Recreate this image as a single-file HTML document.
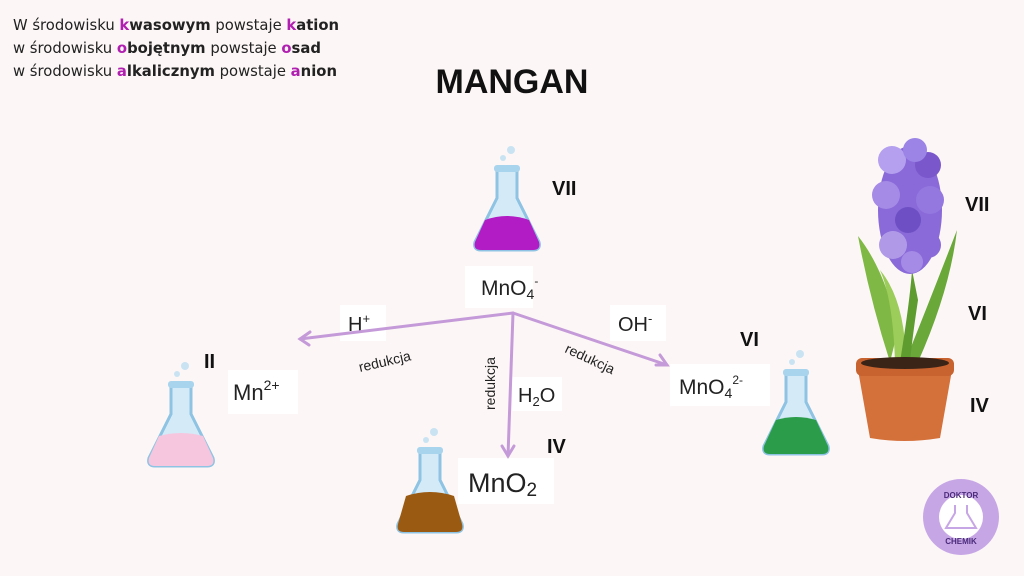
<!DOCTYPE html>
<html><head><meta charset="utf-8"><style>
body{margin:0;width:1024px;height:576px;background:#fcf7f6;overflow:hidden;font-family:"Liberation Sans",sans-serif}
svg{position:absolute;left:0;top:0}
</style></head><body>
<svg width="1024" height="576" viewBox="0 0 1024 576" font-family="Liberation Sans, DejaVu Sans, sans-serif">
<defs>
<g id="flask">
 <path d="M-10,-40 L-10,-12 L-32,32 Q-34,40 -26,40 L26,40 Q34,40 32,32 L10,-12 L10,-40 Z" fill="#d4eaf7" stroke="#8ec3e3" stroke-width="3"/>
 <rect x="-13" y="-45" width="26" height="7" rx="3" fill="#a9d4ee"/>
 <circle cx="-4" cy="-52" r="3" fill="#c9e3f3"/><circle cx="4" cy="-60" r="4" fill="#c9e3f3"/>
</g>
</defs>
<g font-family="DejaVu Sans, sans-serif" font-size="14.8" fill="#222">
<text x="13" y="30">W środowisku <tspan font-weight="bold" fill="#b01fb0">k</tspan><tspan font-weight="bold">wasowym</tspan> powstaje <tspan font-weight="bold" fill="#b01fb0">k</tspan><tspan font-weight="bold">ation</tspan></text>
<text x="13" y="53">w środowisku <tspan font-weight="bold" fill="#b01fb0">o</tspan><tspan font-weight="bold">bojętnym</tspan> powstaje <tspan font-weight="bold" fill="#b01fb0">o</tspan><tspan font-weight="bold">sad</tspan></text>
<text x="13" y="76">w środowisku <tspan font-weight="bold" fill="#b01fb0">a</tspan><tspan font-weight="bold">lkalicznym</tspan> powstaje <tspan font-weight="bold" fill="#b01fb0">a</tspan><tspan font-weight="bold">nion</tspan></text>
</g>
<text x="512" y="93" font-size="34" font-weight="bold" text-anchor="middle" fill="#111">MANGAN</text>

<g transform="translate(507,210)"><use href="#flask"/><path d="M-22,10 Q0,2 22,10 L32,32 Q34,40 26,40 L-26,40 Q-34,40 -32,32 Z" fill="#b21cc4"/></g>
<g transform="translate(181,426)"><use href="#flask"/><path d="M-22,10 Q0,4 22,10 L32,32 Q34,40 26,40 L-26,40 Q-34,40 -32,32 Z" fill="#f6c6de"/></g>
<g transform="translate(430,492)"><use href="#flask"/><path d="M-24,4 Q0,-4 24,4 L32,32 Q34,40 26,40 L-26,40 Q-34,40 -32,32 Z" fill="#9b5a12"/></g>
<g transform="translate(796,414)"><use href="#flask"/><path d="M-20,6 Q0,0 20,6 L32,32 Q34,40 26,40 L-26,40 Q-34,40 -32,32 Z" fill="#2a9c4a"/></g>

<rect x="465" y="266" width="68" height="42" fill="#fff"/>
<text x="481" y="295" font-size="21" fill="#222">MnO<tspan font-size="14" dy="4">4</tspan><tspan font-size="12" dy="-14">-</tspan></text>
<rect x="228" y="370" width="70" height="44" fill="#fff"/>
<text x="233" y="400" font-size="22" fill="#222">Mn<tspan font-size="14" dy="-10">2+</tspan></text>
<rect x="458" y="458" width="96" height="46" fill="#fff"/>
<text x="468" y="492" font-size="27" fill="#222">MnO<tspan font-size="19" dy="4">2</tspan></text>
<rect x="670" y="364" width="100" height="42" fill="#fff"/>
<text x="679" y="394" font-size="21" fill="#222">MnO<tspan font-size="14" dy="4">4</tspan><tspan font-size="12" dy="-14">2-</tspan></text>
<rect x="340" y="305" width="46" height="36" fill="#fff"/>
<text x="348" y="331" font-size="20" fill="#222">H<tspan font-size="13" dy="-8">+</tspan></text>
<rect x="512" y="377" width="50" height="34" fill="#fff"/>
<text x="518" y="402" font-size="20" fill="#222">H<tspan font-size="13" dy="4">2</tspan><tspan dy="-4">O</tspan></text>
<rect x="610" y="305" width="56" height="36" fill="#fff"/>
<text x="618" y="331" font-size="20" fill="#222">OH<tspan font-size="13" dy="-8">-</tspan></text>

<g stroke="#c59ad8" stroke-width="3" fill="none" stroke-linecap="round">
<line x1="513" y1="313" x2="300" y2="339"/><polyline points="310,332 300,339 309,345"/>
<line x1="513" y1="313" x2="508" y2="456"/><polyline points="502,446 508,456 514,446"/>
<line x1="513" y1="313" x2="667" y2="365"/><polyline points="656,365 667,365 660,355"/>
</g>
<text transform="translate(360,372) rotate(-13)" font-size="14" fill="#222">redukcja</text>
<text transform="translate(495,410) rotate(-90)" font-size="14" fill="#222">redukcja</text>
<text transform="translate(564,352) rotate(25)" font-size="14" fill="#222">redukcja</text>

<g font-size="20" font-weight="bold" fill="#111">
<text x="552" y="195">VII</text><text x="204" y="368">II</text><text x="547" y="453">IV</text><text x="740" y="346">VI</text>
<text x="965" y="211">VII</text><text x="968" y="320">VI</text><text x="970" y="412">IV</text>
</g>

<g>
<path d="M890,362 Q870,300 858,236 Q885,270 898,330 Z" fill="#7fb844"/>
<path d="M905,362 Q930,300 957,230 Q950,290 918,362 Z" fill="#6aa83a"/>
<path d="M895,362 Q893,300 880,270 Q905,300 906,362 Z" fill="#9ccc5a"/>
<path d="M900,362 Q910,300 912,270 L918,300 Q912,340 910,362 Z" fill="#5e9c30"/>
<ellipse cx="910" cy="210" rx="32" ry="64" fill="#8a6ad8"/>
<circle cx="892" cy="160" r="14" fill="#b4a0ee"/><circle cx="928" cy="165" r="13" fill="#7a58cc"/>
<circle cx="915" cy="150" r="12" fill="#9b84e6"/>
<circle cx="886" cy="195" r="14" fill="#a58ae6"/><circle cx="930" cy="200" r="14" fill="#9478e0"/>
<circle cx="908" cy="220" r="13" fill="#6e50c4"/>
<circle cx="893" cy="245" r="14" fill="#b09ae8"/><circle cx="928" cy="245" r="13" fill="#8a6ad8"/>
<circle cx="912" cy="262" r="11" fill="#a58ae6"/>
<path d="M858,370 L952,370 L940,438 Q904,444 870,438 Z" fill="#d4703a"/>
<rect x="856" y="358" width="98" height="18" rx="6" fill="#c8622e"/>
<ellipse cx="905" cy="363" rx="44" ry="6" fill="#3a2418"/>
</g>

<circle cx="961" cy="517" r="38" fill="#c7a6e6"/>
<circle cx="961" cy="517" r="22" fill="#fff"/>
<path d="M955,505 L955,513 L946,528 L976,528 L967,513 L967,505" stroke="#c7a6e6" stroke-width="2" fill="none"/>
<text x="961" y="498" font-size="8" font-weight="bold" fill="#4a2a7a" text-anchor="middle">DOKTOR</text>
<text x="961" y="544" font-size="8" font-weight="bold" fill="#4a2a7a" text-anchor="middle">CHEMIK</text>
</svg>
</body></html>
